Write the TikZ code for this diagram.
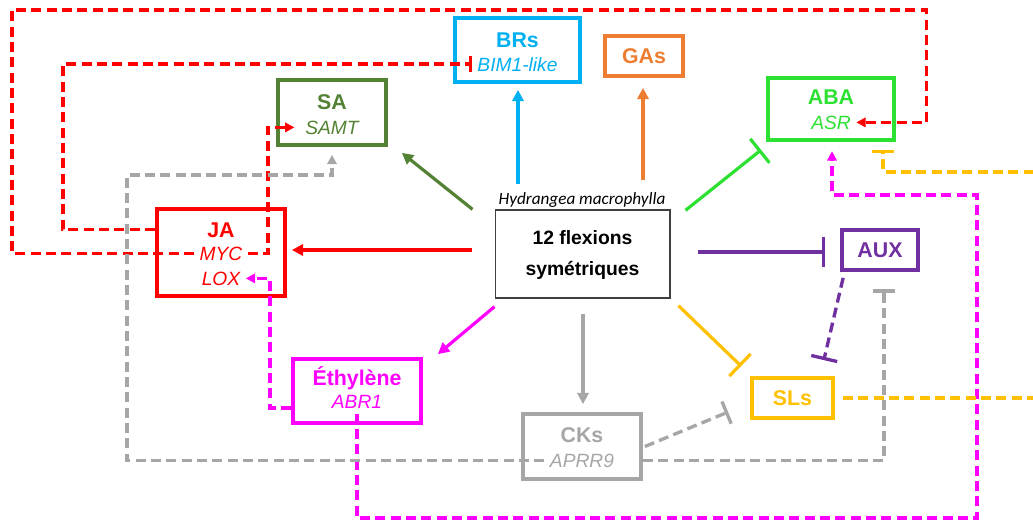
\documentclass[tikz,border=0pt]{standalone}
\usepackage{fontspec}
\setmainfont{Liberation Sans}
\newfontfamily\calibrifont{Carlito}
\usetikzlibrary{arrows.meta, calc, positioning}

\definecolor{brcyan}{RGB}{0,176,240}
\definecolor{gaorange}{RGB}{237,125,49}
\definecolor{sagreen}{RGB}{84,130,53}
\definecolor{abagreen}{RGB}{45,225,50}
\definecolor{jared}{RGB}{255,0,0}
\definecolor{auxpurple}{RGB}{112,48,160}
\definecolor{ethmag}{RGB}{255,0,255}
\definecolor{ckgray}{RGB}{166,166,166}
\definecolor{slyellow}{RGB}{255,192,0}

\newcommand\hormonefont{\fontsize{16}{19}\selectfont\bfseries}
\newcommand\genefont{\fontsize{14.4}{17}\selectfont\itshape}

\begin{document}
\begin{tikzpicture}[
    x=0.75pt, y=-0.75pt, % pixel grid, y goes down
    box/.style={draw, line width=2.8pt, inner sep=0pt}, % hormone boxes
    title/.style={font=\hormonefont, inner sep=0pt, anchor=base}, % hormone names
    gene/.style={font=\genefont, inner sep=4pt, anchor=base}, % gene names
    spoke/.style={line width=2.4pt, -{Triangle[length=8.5pt,width=8.5pt]}}, % induction
    block/.style={line width=2.4pt, -{Bar[width=23pt]}}, % repression
    link/.style={line width=2.5pt, dash pattern=on 7.5pt off 4pt}, % crosstalk
    tip/.style={-{Triangle[length=7pt,width=7pt]}},
    bar/.style={-{Bar[width=#1]}}
]
    \useasboundingbox (0,0) rectangle (1033,522);

    % Central node
    \node[draw=black!75, line width=1pt, minimum width=131pt, minimum height=66pt] (c) at (582.5,254) {};
    \node[font=\fontsize{14.5}{17}\selectfont\bfseries, anchor=base] (cT) at (582.5,244) {12 flexions};
    \node[font=\fontsize{14.5}{17}\selectfont\bfseries, anchor=base] (cB) at (582.5,275) {symétriques};
    \node[font=\calibrifont\fontsize{12.9}{15}\selectfont\itshape, anchor=base] (hyd) at (582,204) {Hydrangea macrophylla};

    % Hormone boxes
    \node[box, draw=brcyan, minimum width=93.75pt, minimum height=48pt] (brs) at (517.5,50) {};
    \node[title, brcyan] (brsT) at (517.5,47) {BRs};
    \node[gene, brcyan] (bim) at (517.5,71) {BIM1-like};

    \node[box, draw=gaorange, text=gaorange, font=\hormonefont, minimum width=58.5pt, minimum height=30pt] (gas) at (644,56) {GAs};

    \node[box, draw=sagreen, minimum width=81pt, minimum height=48.75pt] (sa) at (332,112.5) {};
    \node[title, sagreen] (saT) at (332,109) {SA};
    \node[gene, sagreen] (samt) at (332,134) {SAMT};

    \node[box, draw=abagreen, minimum width=94.5pt, minimum height=46.5pt] (aba) at (831,109) {};
    \node[title, abagreen] (abaT) at (831,104) {ABA};
    \node[gene, abagreen] (asr) at (831,129) {ASR};

    \node[box, draw=jared, minimum width=96pt, minimum height=65.25pt] (ja) at (221,252.5) {};
    \node[title, jared] (jaT) at (221,237) {JA};
    \node[gene, jared] (myc) at (221,260) {MYC};
    \node[gene, jared] (lox) at (221,285) {LOX};

    \node[box, draw=auxpurple, text=auxpurple, font=\hormonefont, minimum width=57pt, minimum height=30pt] (aux) at (880,250) {AUX};

    \node[box, draw=ethmag, minimum width=96pt, minimum height=48pt] (eth) at (357,391) {};
    \node[title, ethmag] (ethT) at (357,385) {Éthylène};
    \node[gene, ethmag] (abr) at (357,408) {ABR1};

    \node[box, draw=ckgray, minimum width=88.5pt, minimum height=48.75pt] (cks) at (582,446.5) {};
    \node[title, ckgray] (cksT) at (582,442) {CKs};
    \node[gene, ckgray] (aprr) at (582,467) {APRR9};

    \node[box, draw=slyellow, text=slyellow, font=\hormonefont, minimum width=60.75pt, minimum height=30pt] (sls) at (792.5,398) {SLs};

    % Responses to the flexions
    \draw[spoke, sagreen] ($(c.north west)+(-22,0)$) -- ($(sa.south east)+(14,6)$);
    \draw[spoke, brcyan] ($(brs.south)+(0.5,100)$) -- ($(brs.south)+(0.5,6)$);
    \draw[spoke, gaorange] ($(gas.south)+(-1,102)$) -- ($(gas.south)+(-1,10)$);
    \draw[block, abagreen] ($(c.north east)+(15,1)$) -- ($(aba.south west)+(-5,8)$);
    \draw[spoke, jared] ($(c.west)+(-23,-4)$) -- ($(ja.east)+(5,-2.5)$);
    \draw[block, auxpurple] ($(c.east)+(27,-2)$) -- ($(aux.west)+(-15,2)$);
    \draw[spoke, ethmag] ($(c.south west)+(0,8)$) -- ($(eth.north east)+(15,-3)$);
    \draw[spoke, ckgray] ($(c.south)+(0.5,15)$) -- ($(cks.north)+(1,-8)$);
    \draw[block, slyellow] ($(c.south east)+(8,7)$) -- ($(sls.north west)+(-9,-10)$);

    % Crosstalk between hormones
    \draw[link, jared, bar=12pt] (ja.west |- jaT.center) -- ++(-92,0) |- (bim.west);
    \draw[link, jared, tip] (myc.west) -| (12,10) -| ($(asr.east)+(70,0)$) -- (asr.east);
    \draw[link, jared, tip, shorten >=4pt] (myc.east) -- ++(20,0) |- (samt.west);

    \draw[link, ethmag, tip] (eth.west |- abr.base) -- ++(-21,0) |- (lox.east);
    \draw[link, ethmag, tip, shorten >=7pt] (abr.south) |- (977,518) |- ($(aba.south)+(1,53)$) -- ($(aba.south)+(1,0)$);

    \draw[link, ckgray, tip, shorten >=6pt] (aprr.west) -| (127,175) -| (sa.south);
    \draw[link, ckgray, bar=17pt, shorten >=13pt] (cks.east |- aprr.center) -| ($(aux.south)+(4,0)$);
    \draw[link, ckgray, bar=18pt] ($(cks.east)+(2,0)$) -- ($(sls.west)+(-22,14)$);

    \draw[link, auxpurple, bar=20pt] ($(aux.south west)+(3,6)$) -- ($(sls.north east)+(-11,-16)$);
    \draw[link, slyellow, bar=17pt] ($(sls.east)+(8,0)$) -- ++(220,0) |- ($(aba.south east)+(-13,30)$) -- ($(aba.south east)+(-13,8)$);

\end{tikzpicture}
\end{document}
